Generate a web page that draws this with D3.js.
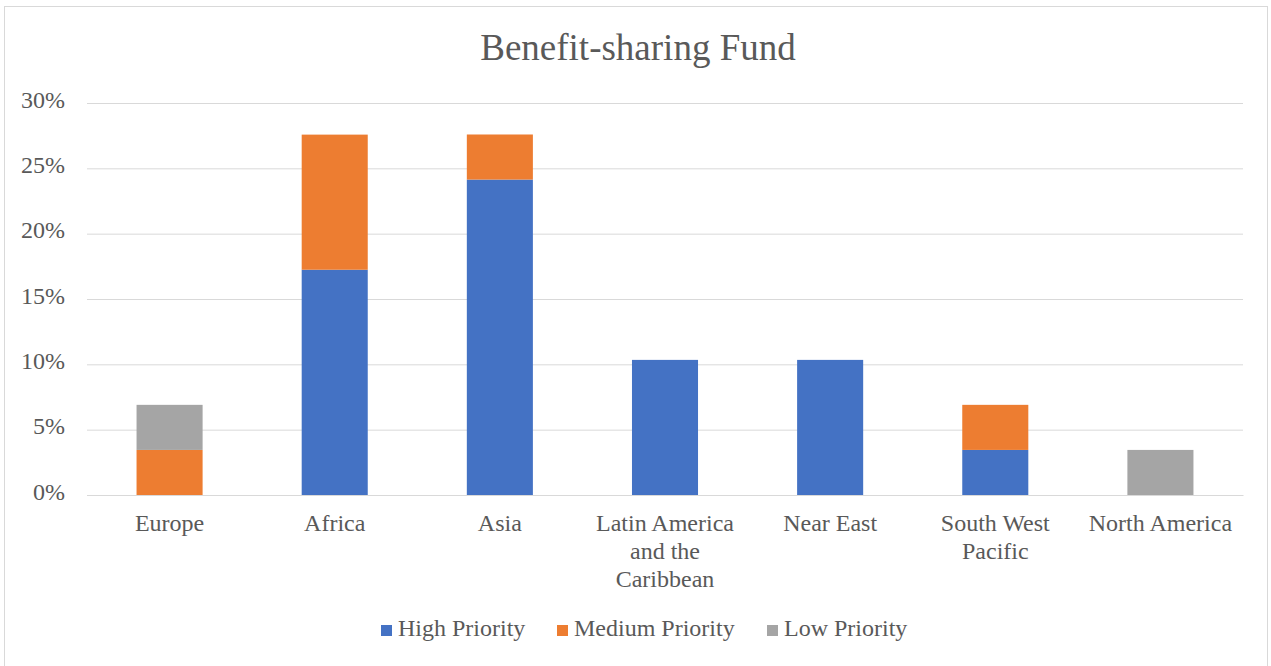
<!DOCTYPE html>
<html><head><meta charset="utf-8">
<script src="https://cdn.jsdelivr.net/npm/d3@7"></script>
<style>body{margin:0;background:#fff}svg{display:block}</style>
</head><body><svg id="c" width="1271" height="666" font-family="'Liberation Serif','Times New Roman',serif"></svg>
<script>
const FONT = "'Liberation Serif','Times New Roman',serif";
const categories = ["Europe","Africa","Asia","Latin America and the Caribbean","Near East","South West Pacific","North America"];
const categoryLines = [["Europe"],["Africa"],["Asia"],["Latin America","and the","Caribbean"],["Near East"],["South West","Pacific"],["North America"]];
const seriesNames = ["High Priority","Medium Priority","Low Priority"];
const highPriority   = [0, 17.24, 24.14, 10.34, 10.34, 3.45, 0];
const mediumPriority = [3.45, 10.34, 3.45, 0, 0, 3.45, 0];
const lowPriority    = [3.45, 0, 0, 0, 0, 0, 3.45];
const tickValues = [0,5,10,15,20,25,30];
const colors = ["#4472c4","#ed7d31","#a5a5a5"];

const svg = d3.select("#c");
svg.append("rect").attr("x",4.5).attr("y",6.5).attr("width",1263).attr("height",670)
  .attr("fill","#fff").attr("stroke","#d9d9d9");

const x = d3.scaleBand().domain(categories).range([87,1243]).paddingInner(0.6).paddingOuter(0.3);
const y = d3.scaleLinear().domain([0,30]).range([495,103]);

svg.append("text").attr("x",638).attr("y",60).attr("text-anchor","middle").attr("font-family",FONT)
  .attr("font-size",37).attr("fill","#595959").text("Benefit-sharing Fund");

const yAxis = svg.append("g").attr("transform","translate(87,0)")
  .call(d3.axisLeft(y).tickValues(tickValues).tickSize(-1156).tickFormat(d=>d+"%"));
yAxis.attr("font-family",FONT);
yAxis.select(".domain").remove();
yAxis.selectAll(".tick line").attr("stroke","#d9d9d9");
yAxis.selectAll(".tick text").attr("x",-22).attr("dy","0.18em").attr("font-size",24).attr("font-family",FONT).attr("fill","#595959");

const data = categories.map((c,i)=>({cat:c,"High Priority":highPriority[i],"Medium Priority":mediumPriority[i],"Low Priority":lowPriority[i]}));
const stacked = d3.stack().keys(seriesNames)(data);
svg.append("g").selectAll("g").data(stacked).join("g").attr("fill",(d,i)=>colors[i])
  .selectAll("rect").data(d=>d.filter(p=>p[1]-p[0]>0)).join("rect")
  .attr("x",d=>x(d.data.cat)).attr("width",x.bandwidth())
  .attr("y",d=>y(d[1])).attr("height",d=>y(d[0])-y(d[1]));

const xAxis = svg.append("g").attr("transform","translate(0,495)")
  .call(d3.axisBottom(x).tickSize(0).tickFormat(""));
xAxis.attr("font-family",FONT);
xAxis.select(".domain").attr("stroke","#d9d9d9");
xAxis.selectAll(".tick").each(function(d,i){
  const t = d3.select(this).append("text").attr("fill","#595959").attr("font-size",24).attr("font-family",FONT).attr("text-anchor","middle");
  categoryLines[i].forEach((ln,j)=>t.append("tspan").attr("x",0).attr("y",36+j*28).text(ln));
});

const legendX = [381,557,767];
const lg = svg.append("g");
seriesNames.forEach((s,i)=>{
  lg.append("rect").attr("x",legendX[i]).attr("y",625).attr("width",11).attr("height",11).attr("fill",colors[i]);
  lg.append("text").attr("x",legendX[i]+17).attr("y",636).attr("font-size",24).attr("font-family",FONT).attr("fill","#595959").text(s);
});
</script></body></html>
